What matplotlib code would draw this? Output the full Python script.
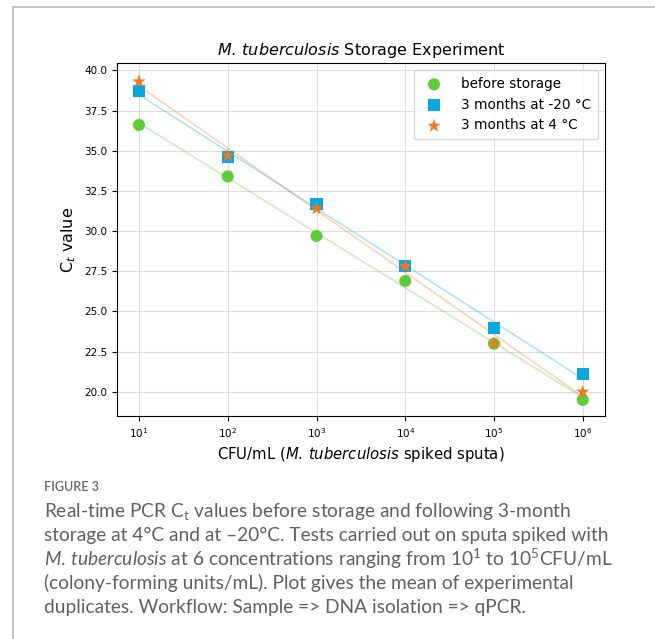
import numpy as np
import matplotlib
matplotlib.use('Agg')
import matplotlib.pyplot as plt
from matplotlib.lines import Line2D
from matplotlib.ticker import NullLocator

plt.rcParams['mathtext.fontset'] = 'dejavusans'
plt.rcParams['mathtext.rm'] = 'Lato'
plt.rcParams['mathtext.it'] = 'Lato:italic'

# data
cfu = [1e1, 1e2, 1e3, 1e4, 1e5, 1e6]
before = [36.6, 33.4, 29.7, 26.9, 23.0, 19.5]
minus20 = [38.7, 34.6, 31.7, 27.8, 24.0, 21.1]
plus4 = [39.3, 34.7, 31.4, 27.8, 23.0, 20.0]

labels = ['before storage', '3 months at -20 °C', '3 months at 4 °C']
colors = ['#5dcc36', '#0ba6de', '#f5761a']
markers = ['o', 's', '*']
sizes = [75, 75, 105]

fig = plt.figure(figsize=(6.55, 6.39), dpi=100)
ax = fig.add_axes([0.1786, 0.349, 0.745, 0.552])

x = np.log10(cfu)
for ys, lab, c, m, s in zip([before, minus20, plus4], labels, colors, markers, sizes):
    k, b = np.polyfit(x, ys, 1)
    ax.plot(cfu, k * x + b, color=c, alpha=0.35, lw=1.1, zorder=2)
    ax.scatter(cfu, ys, color=c, marker=m, s=s, label=lab, zorder=3, edgecolors='none')

ax.set_xscale('log')
ax.set_xlim(10**0.752, 10**6.25)
ax.xaxis.set_minor_locator(NullLocator())
ax.set_ylim(18.5, 40.44)
ax.set_yticks(np.arange(20, 40.1, 2.5))
ax.tick_params(labelsize=7.5)
ax.grid(True, color='#dddddd', lw=0.8)
ax.set_axisbelow(True)

ax.set_title(r'$M.\,tuberculosis$ Storage Experiment', fontsize=11.5)
ax.set_xlabel(r'CFU/mL ($M.\,tuberculosis$ spiked sputa)', fontsize=10.7)
ax.set_ylabel(r'C$_t$ value', fontsize=11.5)
ax.legend(loc='upper right', fontsize=9.8, handletextpad=1.0, borderpad=0.5,
          labelspacing=0.5)

# frame lines of the figure panel
fig.add_artist(Line2D([13 / 655, 1], [1 - 7 / 639, 1 - 7 / 639], color='#bbbbbb', lw=1.2))
fig.add_artist(Line2D([13 / 655, 13 / 655], [0, 1 - 7 / 639], color='#bbbbbb', lw=1.2))

# caption
fig.text(44 / 655, 1 - 487 / 639, 'FIGURE 3', fontsize=9, family='Lato',
         weight='semibold', color='#666666', va='center')
caption = [
    r'Real-time PCR C$_\mathrm{t}$ values before storage and following 3-month',
    r'storage at 4°C and at –20°C. Tests carried out on sputa spiked with',
    r'$\mathit{M.\,tuberculosis}$ at 6 concentrations ranging from 10$^\mathrm{1}$ to 10$^\mathrm{5}$CFU/mL',
    '(colony-forming units/mL). Plot gives the mean of experimental',
    'duplicates. Workflow: Sample => DNA isolation => qPCR.',
]
for i, line in enumerate(caption):
    fig.text(44 / 655, 1 - (511 + 24 * i) / 639, line, fontsize=13.8, family='Lato',
             color='#606060', va='center', math_fontfamily='custom')

fig.savefig('out.png', dpi=100)
